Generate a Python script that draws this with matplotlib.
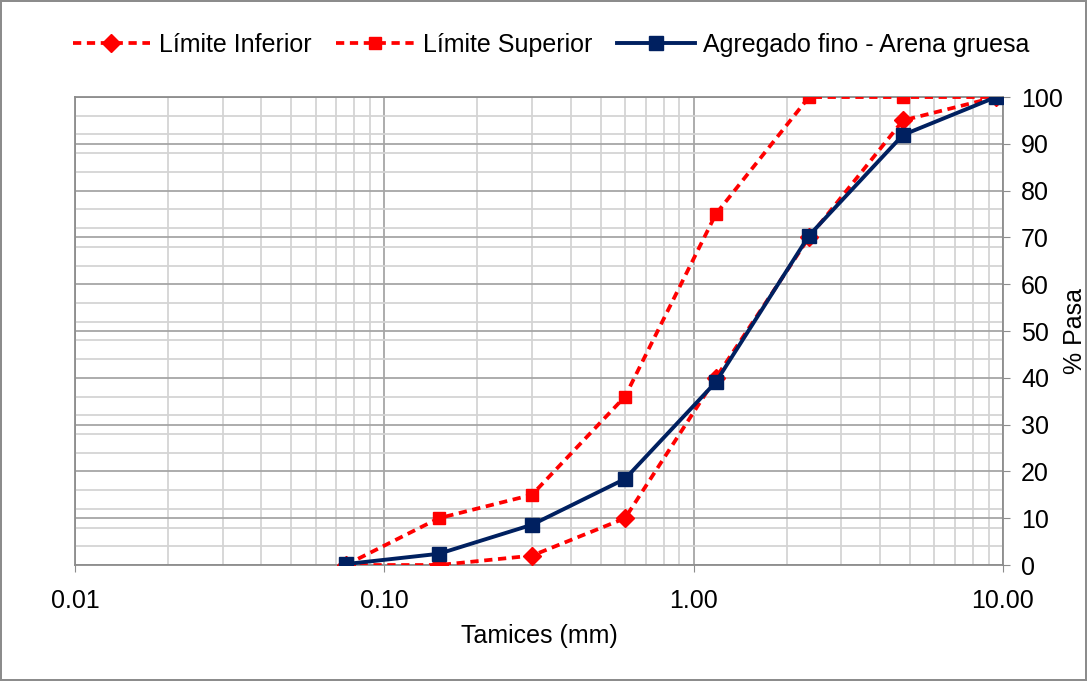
import numpy as np
import matplotlib
matplotlib.use('Agg')
import matplotlib.pyplot as plt
from matplotlib.ticker import FixedLocator, NullFormatter

plt.rcParams['font.family'] = ['Liberation Sans', 'DejaVu Sans']

# tamices (mm) y % que pasa
tamices = [0.075, 0.15, 0.30, 0.60, 1.18, 2.36, 4.75, 9.50]
lim_inferior = [0, 0, 2, 10, 40, 70, 95, 100]
lim_superior = [0, 10, 15, 36, 75, 100, 100, 100]
arena_gruesa = [0.2, 2.4, 8.6, 18.4, 39.1, 70.4, 91.9, 100]

x_ticks = [0.01, 0.1, 1, 10]
x_labels = ['0.01', '0.10', '1.00', '10.00']
y_ticks = list(range(0, 101, 10))

fig = plt.figure(figsize=(10.87, 6.81), dpi=100)
fig.patch.set_edgecolor('#8c8c8c')
fig.patch.set_linewidth(1.5)
ax = fig.add_axes([0.069, 0.1703, 0.8537, 0.6872])

ax.plot(tamices, lim_inferior, color='#ff0000', ls=(0, (2.2, 1.5)), lw=2.7,
        marker='D', ms=9, label='Límite Inferior', zorder=3)
ax.plot(tamices, lim_superior, color='#ff0000', ls=(0, (2.2, 1.5)), lw=2.7,
        marker='s', ms=9, label='Límite Superior', zorder=3)
ax.plot(tamices, arena_gruesa, color='#002060', ls='-', lw=2.8,
        marker='s', ms=10, label='Agregado fino - Arena gruesa', zorder=4)

ax.set_xscale('log')
ax.set_xlim(0.01, 10)
ax.set_ylim(0, 100)

ax.xaxis.set_major_locator(FixedLocator(x_ticks))
ax.set_xticklabels(x_labels)
minor_x = [m * 10.0 ** e for e in range(-2, 1) for m in range(2, 10)]
ax.xaxis.set_minor_locator(FixedLocator(minor_x))
ax.xaxis.set_minor_formatter(NullFormatter())

ax.yaxis.tick_right()
ax.yaxis.set_label_position('right')
ax.set_yticks(y_ticks)
ax.set_yticks(np.arange(0, 101, 4), minor=True)

ax.grid(which='major', color='#a6a6a6', lw=1.3)
ax.grid(which='minor', color='#d4d4d4', lw=1.3)
ax.set_axisbelow(True)

for s in ax.spines.values():
    s.set_color('#8c8c8c')
    s.set_linewidth(1.3)

ax.tick_params(which='major', labelsize=18, length=5, color='#8c8c8c', pad=8)
ax.tick_params(which='minor', length=0)
ax.tick_params(axis='x', pad=12)

ax.set_xlabel('Tamices (mm)', fontsize=18, labelpad=8)
ax.set_ylabel('% Pasa', fontsize=18, labelpad=0)

fig.legend(loc='center', bbox_to_anchor=(0.507, 0.934), ncol=3, frameon=False,
           fontsize=18, handlelength=3.1, handletextpad=0.35, columnspacing=1.0)

fig.savefig('out.png', dpi=100, edgecolor=fig.get_edgecolor())
